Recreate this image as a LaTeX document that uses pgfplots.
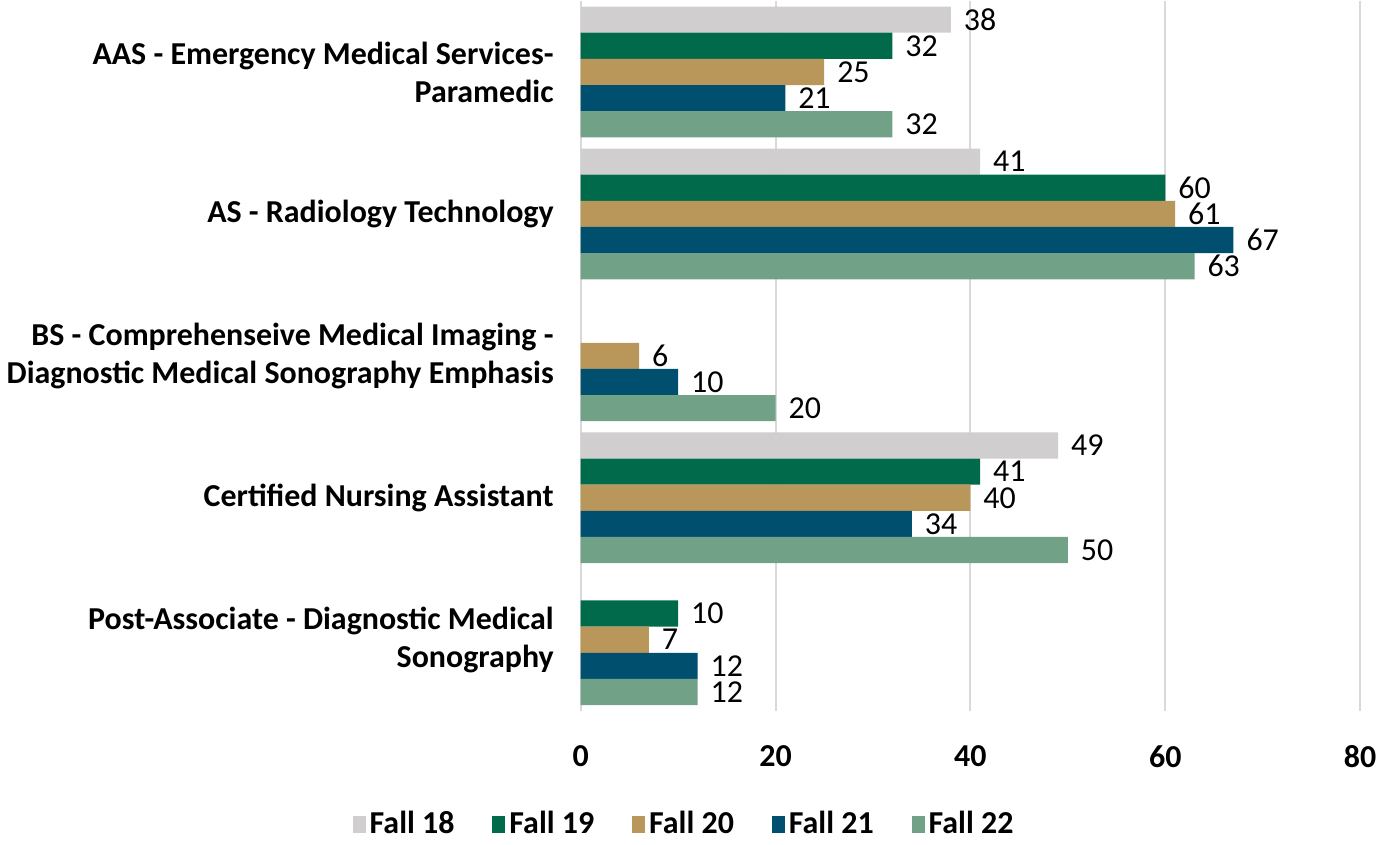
\documentclass[border=0pt]{standalone}
\usepackage{pgfplots}
\pgfplotsset{compat=1.18}
\usepackage{fontspec}
\setmainfont{Carlito}
\definecolor{f18}{HTML}{D0CECE}
\definecolor{f19}{HTML}{006A4A}
\definecolor{f20}{HTML}{B9975B}
\definecolor{f21}{HTML}{004F6E}
\definecolor{f22}{HTML}{71A287}
\definecolor{gridgray}{HTML}{D9D9D9}
\newcommand{\lblfont}{\fontsize{16}{19}\selectfont}
\begin{document}
\begin{tikzpicture}
\begin{axis}[
  xbar, bar width=13.1pt,
  scale only axis, width=390.5pt, height=355.5pt,
  xmin=0, xmax=80, ymin=-0.5, ymax=4.5, y dir=reverse,
  xtick={0,20,40,60,80}, ytick={0,1,2,3,4},
  yticklabels={{AAS - Emergency Medical Services-\\Paramedic},
               {AS - Radiology Technology},
               {BS - Comprehenseive Medical Imaging -\\Diagnostic Medical Sonography Emphasis},
               {Certified Nursing Assistant},
               {Post-Associate - Diagnostic Medical\\Sonography}},
  yticklabel style={align=right, font=\lblfont\bfseries, xshift=-10pt},
  xticklabel style={font=\lblfont\bfseries, yshift=-14pt},
  /pgf/number format/assume math mode=true,
  major tick length=0pt,
  axis line style={draw=none},
  xmajorgrids, grid style={draw=gridgray, line width=1pt},
  nodes near coords,
  nodes near coords style={font=\lblfont, anchor=west, xshift=3pt},
  legend columns=5,
  legend style={draw=none, font=\lblfont\bfseries,
    at={(rel axis cs:0.134,-0.16)}, anchor=center,
    /tikz/every even column/.append style={column sep=17pt}},
  legend image code/.code={\fill[#1] (0pt,-4.5pt) rectangle (6.5pt,4pt);},
]
\addplot[fill=f18, draw=none, bar shift=26.2pt] coordinates {(38,0) (41,1) (49,3)};
\addplot[fill=f19, draw=none, bar shift=13.1pt] coordinates {(32,0) (60,1) (41,3) (10,4)};
\addplot[fill=f20, draw=none, bar shift=0pt] coordinates {(25,0) (61,1) (6,2) (40,3) (7,4)};
\addplot[fill=f21, draw=none, bar shift=-13.1pt] coordinates {(21,0) (67,1) (10,2) (34,3) (12,4)};
\addplot[fill=f22, draw=none, bar shift=-26.2pt] coordinates {(32,0) (63,1) (20,2) (50,3) (12,4)};
\legend{Fall 18, Fall 19, Fall 20, Fall 21, Fall 22}
\end{axis}
\end{tikzpicture}
\end{document}
